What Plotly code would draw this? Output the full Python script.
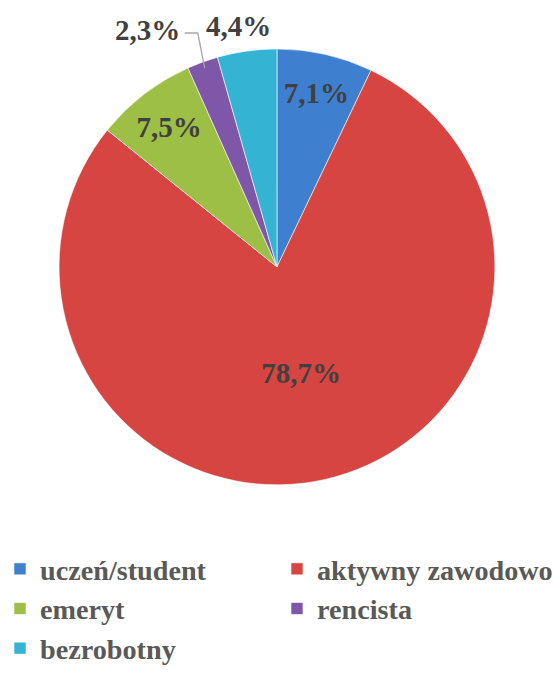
import math
import plotly.graph_objects as go

categories = ["uczeń/student", "aktywny zawodowo", "emeryt", "rencista", "bezrobotny"]
values = [7.1, 78.7, 7.5, 2.3, 4.4]
labels_text = ["7,1%", "78,7%", "7,5%", "2,3%", "4,4%"]
colors = ["#3F7FCF", "#D64541", "#9DBF45", "#7E57A8", "#35B3D3"]
inside_mask = [True, True, True, False, False]

W, H = 553, 680
dom_x = [0.1067, 0.895]
dom_y = [0.287, 0.928]
LABEL_FONT = dict(family="Liberation Serif", size=29, color="#404040", weight="bold")

fig = go.Figure(go.Pie(
    labels=categories,
    values=values,
    text=[t if m else "" for t, m in zip(labels_text, inside_mask)],
    textinfo="text",
    textposition=["inside" if m else "none" for m in inside_mask],
    insidetextorientation="horizontal",
    sort=False,
    direction="clockwise",
    rotation=0,
    marker=dict(colors=colors, line=dict(color="rgba(255,255,255,0.6)", width=1)),
    insidetextfont=LABEL_FONT,
    domain=dict(x=dom_x, y=dom_y),
    hoverinfo="label+percent",
))

# pie geometry in pixels (derived from domain)
cx = (dom_x[0] + dom_x[1]) / 2 * W
cy = (1 - (dom_y[0] + dom_y[1]) / 2) * H
r = min((dom_x[1] - dom_x[0]) * W, (dom_y[1] - dom_y[0]) * H) / 2
total = sum(values)

def edge_point(i, frac=1.0):
    start = sum(values[:i]) / total
    mid = (start + values[i] / total / 2) * 2 * math.pi
    return cx + frac * r * math.sin(mid), cy - frac * r * math.cos(mid)

annotations = []
shapes = []
# 2,3% label with leader line
i = categories.index("rencista")
px, py = edge_point(i, 0.97)
lx, ly = px - 57, 30
annotations.append(dict(text=labels_text[i], x=lx / W, y=1 - ly / H, xref="paper", yref="paper",
                        showarrow=False, font=LABEL_FONT, xanchor="center", yanchor="middle"))
shapes.append(dict(type="path", xref="paper", yref="paper",
                   path=f"M {(lx + 37) / W},{1 - (ly + 3) / H} L {(px - 7) / W},{1 - (ly + 3) / H} L {px / W},{1 - py / H}",
                   line=dict(color="#A6A6A6", width=1.3)))
# 4,4% label above slice
i = categories.index("bezrobotny")
px, py = edge_point(i, 1.0)
annotations.append(dict(text=labels_text[i], x=(px - 8) / W, y=1 - 26 / H, xref="paper", yref="paper",
                        showarrow=False, font=LABEL_FONT, xanchor="center", yanchor="middle"))

fig.update_layout(
    width=W, height=H,
    margin=dict(l=0, r=0, t=0, b=0),
    paper_bgcolor="white",
    font=dict(family="Liberation Serif", color="#595959"),
    showlegend=True,
    annotations=annotations,
    shapes=shapes,
    legend=dict(
        orientation="h",
        x=0.0, xanchor="left",
        y=0.200, yanchor="top",
        entrywidth=232, entrywidthmode="pixels",
        font=dict(family="Liberation Serif", size=28.2, color="#595959", weight="bold"),
        traceorder="normal",
    ),
)

fig.write_html("out.html", config={"displayModeBar": False},
               post_script="document.body.style.margin='0';document.body.style.overflow='hidden';")
